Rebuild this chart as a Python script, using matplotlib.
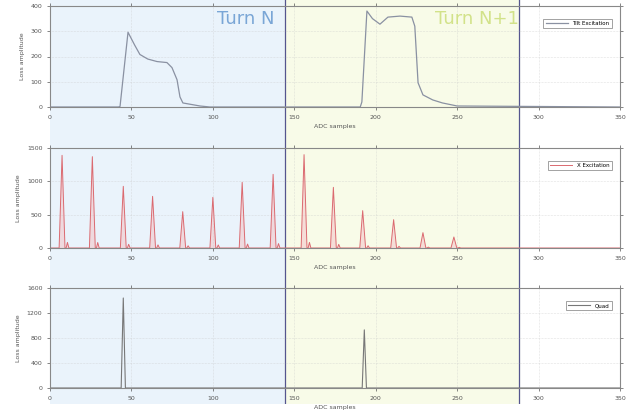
import numpy as np
import matplotlib
matplotlib.use('Agg')
import matplotlib.pyplot as plt

# turn boundaries (ADC samples)
turn_edges = [0, 144, 288]

# top panel: tilt excitation envelope
tilt_x = [0, 42, 43, 47.9, 52, 55.2, 60, 65.7, 71.8, 74.9, 78.0, 79.8, 81.6, 92.1, 98.2,
          190.5, 191.5, 194.6, 198, 202.6, 207.5, 214.9, 222.2, 224, 226, 229, 235, 241, 250, 350]
tilt_y = [0, 0, 2, 296, 245, 208, 190, 180, 176, 156, 108, 40, 16, 4, 0,
          0, 20, 380, 350, 328, 356, 360, 356, 320, 96, 48, 28, 16, 4, 0]

# middle panel: bunch peaks
bunch_pos = [7.4, 26, 45, 63, 81.5, 100, 118, 137, 156, 174, 192, 211, 229, 248]
bunch_height = [1390, 1370, 925, 775, 545, 760, 985, 1105, 1400, 910, 560, 425, 230, 165]

# bottom panel: single kick peaks
kick_pos = [45, 193]
kick_height = [1440, 930]

xticks = [0, 50, 100, 150, 200, 250, 300, 350]


def spikes(pos, height, half_width, echo=0.0):
    x = [0]
    y = [0]
    for p, h in zip(pos, height):
        x += [p - half_width, p, p + half_width]
        y += [0, h, 0]
        if echo:
            x += [p + 2.5, p + 3.3, p + 4.2]
            y += [0, h * echo, 0]
    x.append(350)
    y.append(0)
    return x, y


fig = plt.figure(figsize=(6.3, 4.12), dpi=100)
left, width = 50 / 630, 570 / 630

# background shading spanning all panels
bg = fig.add_axes([left, 0.02, width, 0.98], zorder=-1)
bg.set_xlim(0, 350)
bg.set_ylim(0, 1)
bg.axvspan(turn_edges[0], turn_edges[1], color='#eaf3fb')
bg.axvspan(turn_edges[1], turn_edges[2], color='#f8fbe8')
for e in turn_edges[1:]:
    bg.axvline(e, color='#55558f', lw=0.9)
bg.axis('off')

panels = [
    (1 - 107 / 412, 101 / 412, (0, 400), [0, 100, 200, 300, 400], 'Tilt Excitation'),
    (1 - 248 / 412, 100 / 412, (0, 1500), [0, 500, 1000, 1500], 'X Excitation'),
    (1 - 388 / 412, 100 / 412, (0, 1600), [0, 400, 800, 1200, 1600], 'Quad'),
]

axes = []
for bottom, h, ylim, yt, lab in panels:
    ax = fig.add_axes([left, bottom, width, h])
    ax.set_facecolor('none')
    ax.set_xlim(0, 350)
    ax.set_ylim(*ylim)
    ax.set_xticks(xticks)
    ax.set_yticks(yt)
    ax.tick_params(labelsize=4.5, length=2, width=0.5, top=True, right=True, colors='#555555')
    ax.grid(True, color='#c8c8c8', lw=0.4, ls=':')
    for s in ax.spines.values():
        s.set_color('#888888')
        s.set_linewidth(0.8)
    ax.set_xlabel('ADC samples', fontsize=4.5, color='#555555', labelpad=3)
    ax.set_ylabel('Loss amplitude', fontsize=4.5, color='#555555', labelpad=4)
    axes.append(ax)

ax1, ax2, ax3 = axes
ax1.plot(tilt_x, tilt_y, color='#8a91a2', lw=0.9, label='Tilt Excitation')

bx, by = spikes(bunch_pos, bunch_height, 1.8, echo=0.06)
ax2.fill(bx, by, color='#f4c9cc', alpha=0.6, lw=0)
ax2.plot(bx, by, color='#db6a70', lw=0.7, label='X Excitation')

kx, ky = spikes(kick_pos, kick_height, 1.3)
ax3.plot(kx, ky, color='#777777', lw=0.8, label='Quad')

for ax in axes:
    leg = ax.legend(loc='upper right', fontsize=4, frameon=True, fancybox=False,
                    handlelength=4, borderpad=0.4, bbox_to_anchor=(0.99, 0.9))
    leg.get_frame().set_edgecolor('#777777')
    leg.get_frame().set_linewidth(0.6)

ax1.text(120, 385, 'Turn N', color='#7aa6d6', fontsize=13, ha='center', va='top')
ax1.text(262, 385, 'Turn N+1', color='#d2e289', fontsize=13, ha='center', va='top')

fig.savefig('out.png', dpi=100)
